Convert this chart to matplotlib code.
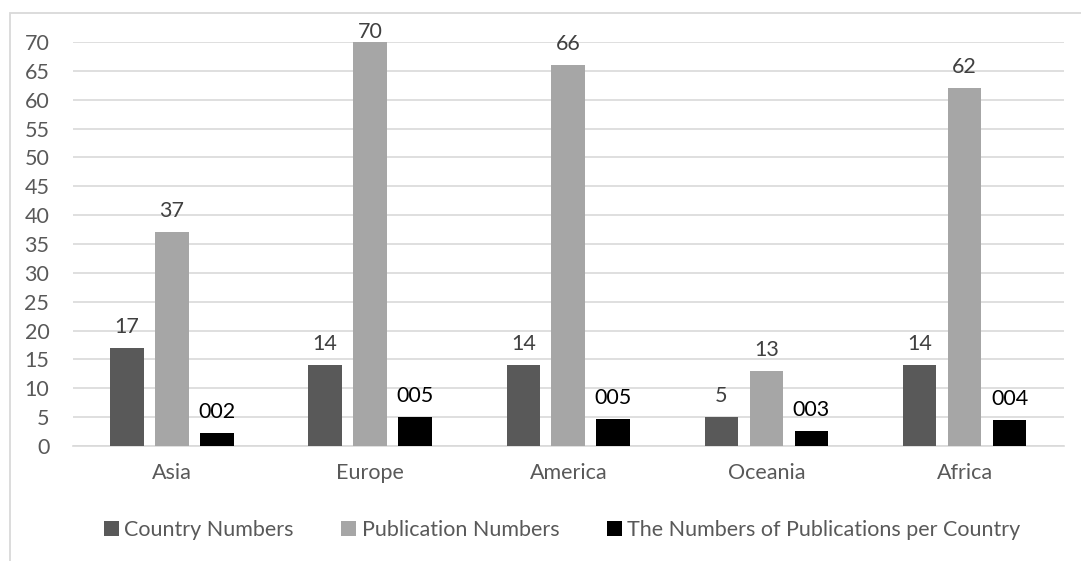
import matplotlib.pyplot as plt
from matplotlib.patches import Rectangle
import numpy as np

plt.rcParams['font.family'] = ['Lato', 'DejaVu Sans']

# data
regions = ['Asia', 'Europe', 'America', 'Oceania', 'Africa']
country_numbers = [17, 14, 14, 5, 14]
publication_numbers = [37, 70, 66, 13, 62]
pubs_per_country = [2.18, 5.0, 4.71, 2.6, 4.43]

series_names = ['Country Numbers', 'Publication Numbers',
                'The Numbers of Publications per Country']
colors = ['#595959', '#a6a6a6', '#000000']
label_colors = ['#404040', '#404040', '#000000']
ymax = 70

fig = plt.figure(figsize=(10.81, 5.61), dpi=100)
ax = fig.add_axes([0.0675, 0.205, 0.9165, 0.72])

# light frame like the Excel chart area
fig.patches.append(Rectangle((10 / 1081, -0.2), 1.2, 1.2 - 13 / 561,
                             transform=fig.transFigure, fill=False,
                             edgecolor='#d9d9d9', lw=1.3))

x = np.arange(len(regions))
width = 0.17
step = 0.227
all_series = [country_numbers, publication_numbers, pubs_per_country]

for i, vals in enumerate(all_series):
    bars = ax.bar(x + (i - 1) * step, vals, width, color=colors[i],
                  label=series_names[i], zorder=3)
    for b, v in zip(bars, vals):
        txt = f'{v:03.0f}' if i == 2 else f'{v:.0f}'
        # excel squeezes the label of the tallest bar down onto the bar
        off = 0 if v >= ymax else 8
        ax.annotate(txt, (b.get_x() + b.get_width() / 2, b.get_height()),
                    xytext=(0, off), textcoords='offset points',
                    ha='center', va='bottom', fontsize=15.5,
                    color=label_colors[i], zorder=4)

ax.set_ylim(0, ymax)
ax.set_xlim(-0.5, len(regions) - 0.5)
ax.set_yticks(range(0, 71, 5))
ax.set_xticks(x)
ax.set_xticklabels(regions)
ax.tick_params(axis='both', length=0, labelsize=15.5, colors='#595959')
ax.tick_params(axis='x', pad=12)
ax.tick_params(axis='y', pad=17)
ax.grid(axis='y', color='#d9d9d9', lw=1.2, zorder=0)
for s in ['top', 'right', 'left']:
    ax.spines[s].set_visible(False)
ax.spines['bottom'].set_color('#d9d9d9')
ax.spines['bottom'].set_linewidth(1.2)

leg = fig.legend(loc='center', bbox_to_anchor=(0.52, 0.055), ncol=3,
                 frameon=False, fontsize=15.5, handlelength=0.7,
                 handleheight=0.7, handletextpad=0.25, columnspacing=2.2)
for t in leg.get_texts():
    t.set_color('#595959')

fig.savefig('out.png', dpi=100)
